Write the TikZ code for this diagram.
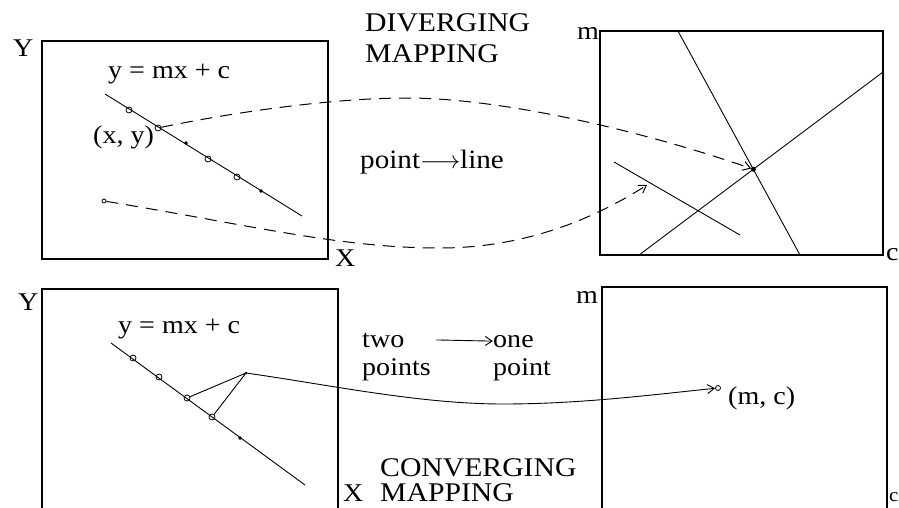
\documentclass[tikz,border=0pt]{standalone}
\usepackage{fontspec}
\setmainfont{Liberation Serif}[FakeStretch=1.1]
\usetikzlibrary{arrows,arrows.meta}
\usetikzlibrary{calc}
\tikzset{>={Straight Barb[length=7pt,width=9pt]}}
\tikzstyle{box} = [line width = 1.1]
\tikzstyle{thin} = [line width = 0.9]
\tikzstyle{map} = [%
					line width = 1,
					dash pattern = on 12pt off 8pt
					]
\tikzstyle{lbl} = [inner sep = 0, anchor = base west, font = \fontsize{25.5}{30}\selectfont]
\tikzstyle{head} = [inner sep = 0, anchor = base west, font = \fontsize{27}{31}\selectfont]
\tikzstyle{ring} = [circle, draw, line width = 0.8, inner sep = 0, minimum size = 6pt]
\tikzstyle{dot} = [circle, draw, fill, inner sep = 0, minimum size = 3pt]

\begin{document}
\begin{tikzpicture}[x=1pt,y=-1pt]

	\useasboundingbox (0,0) rectangle (899,508);
	\clip (0,0) rectangle (899,508);

	% Boxes
	\draw[box] (42,41) rectangle (328,259);
	\draw[box] (600,31) rectangle (883,255);
	\draw[box] (42,289) rectangle (338,530);
	\draw[box] (602,287) rectangle (887,530);

	% Axis labels
	\node[lbl] (ya) at (13,57) {Y};
	\node[lbl] (xa) at (335,266) {X};
	\node[lbl] (ma) at (577,40) {m};
	\node[lbl] (ca) at (886,260) {c};
	\node[lbl] (yb) at (18,310) {Y};
	\node[lbl] (xb) at (343,501) {X};
	\node[lbl] (mb) at (576,303) {m};
	\node[lbl, font=\fontsize{19}{24}\selectfont] (cb) at (889,501) {c};

	% Coordinates
	\coordinate (la) at (105,94);
	\coordinate (lb) at (302,216);
	\coordinate (r1a) at (678,31);
	\coordinate (r1b) at (800,255);
	\coordinate (r2a) at (639,255);
	\coordinate (r2b) at (883,72);
	\coordinate (r3a) at (614,162);
	\coordinate (r3b) at (740,235);
	\coordinate (tip) at (647,185);
	\coordinate (ka) at (111,343);
	\coordinate (kb) at (305,485);

	%% Diverging mapping
	\draw[thin] (la) -- (lb);
	\node[ring] (a1) at (129,110) {};
	\node[ring] (a2) at (158,128) {};
	\node[dot]  (a3) at (186,143) {};
	\node[ring] (a4) at (208,159) {};
	\node[ring] (a5) at (237,177) {};
	\node[dot]  (a6) at (261,191) {};
	\node[ring, minimum size=4pt] (q) at (104,201) {};
	\node[lbl] (eqa) at (108,79) {y = mx + c};
	\node[lbl] (xy) at (93,143) {(x, y)};

	\draw[thin] (r1a) -- (r1b);
	\draw[thin] (r2a) -- (r2b);
	\draw[thin] (r3a) -- (r3b);
	\node[ring, minimum size=4pt, fill] (hit) at (intersection of r1a--r1b and r2a--r2b) {};

	\node[head] (div) at (365,32) {DIVERGING};
	\node[head] (divm) at (365,63) {MAPPING};
	\node[lbl, font=\fontsize{26.5}{30}\selectfont] (pl) at (360,168) {point$\longrightarrow$line};

	\draw[map, ->] (a2) .. controls (230,113) and (330,98) .. (407,98)
		.. controls (500,98) and (640,130) .. (hit);
	\draw[map, ->] (q) .. controls (250,225) and (340,248) .. (440,248)
		.. controls (530,248) and (600,215) .. (tip);

	%% Converging mapping
	\draw[thin] (ka) -- (kb);
	\node[ring] (b1) at (133,358) {};
	\node[ring] (b2) at (159,377) {};
	\node[ring] (b3) at (187,398) {};
	\node[ring] (b4) at (212,417) {};
	\node[dot]  (b5) at (240,438) {};
	\node[dot, minimum size=2pt] (apex) at (246,373) {};
	\draw[thin] (b3) -- (apex) -- (b4);
	\node[lbl] (eqb) at (118,333) {y = mx + c};

	\node[ring, minimum size=5pt] (mc) at (718,388) {};
	\node[lbl] (mcl) at (728,404) {(m, c)};
	\draw[thin, ->] (apex) .. controls (330,385) and (420,404) .. (503,404)
		.. controls (580,404) and (650,395) .. (mc);

	\node[lbl] (two) at (362,347) {two};
	\node[lbl] (pts) at (362,375) {points};
	\node[lbl] (one) at (493,347) {one};
	\node[lbl] (pt) at (493,375) {point};
	\draw[thin, ->] ([xshift=32pt]two.east) -- (one.west);

	\node[head] (conv) at (380,476) {CONVERGING};
	\node[head] (convm) at (380,501) {MAPPING};

\end{tikzpicture}
\end{document}
